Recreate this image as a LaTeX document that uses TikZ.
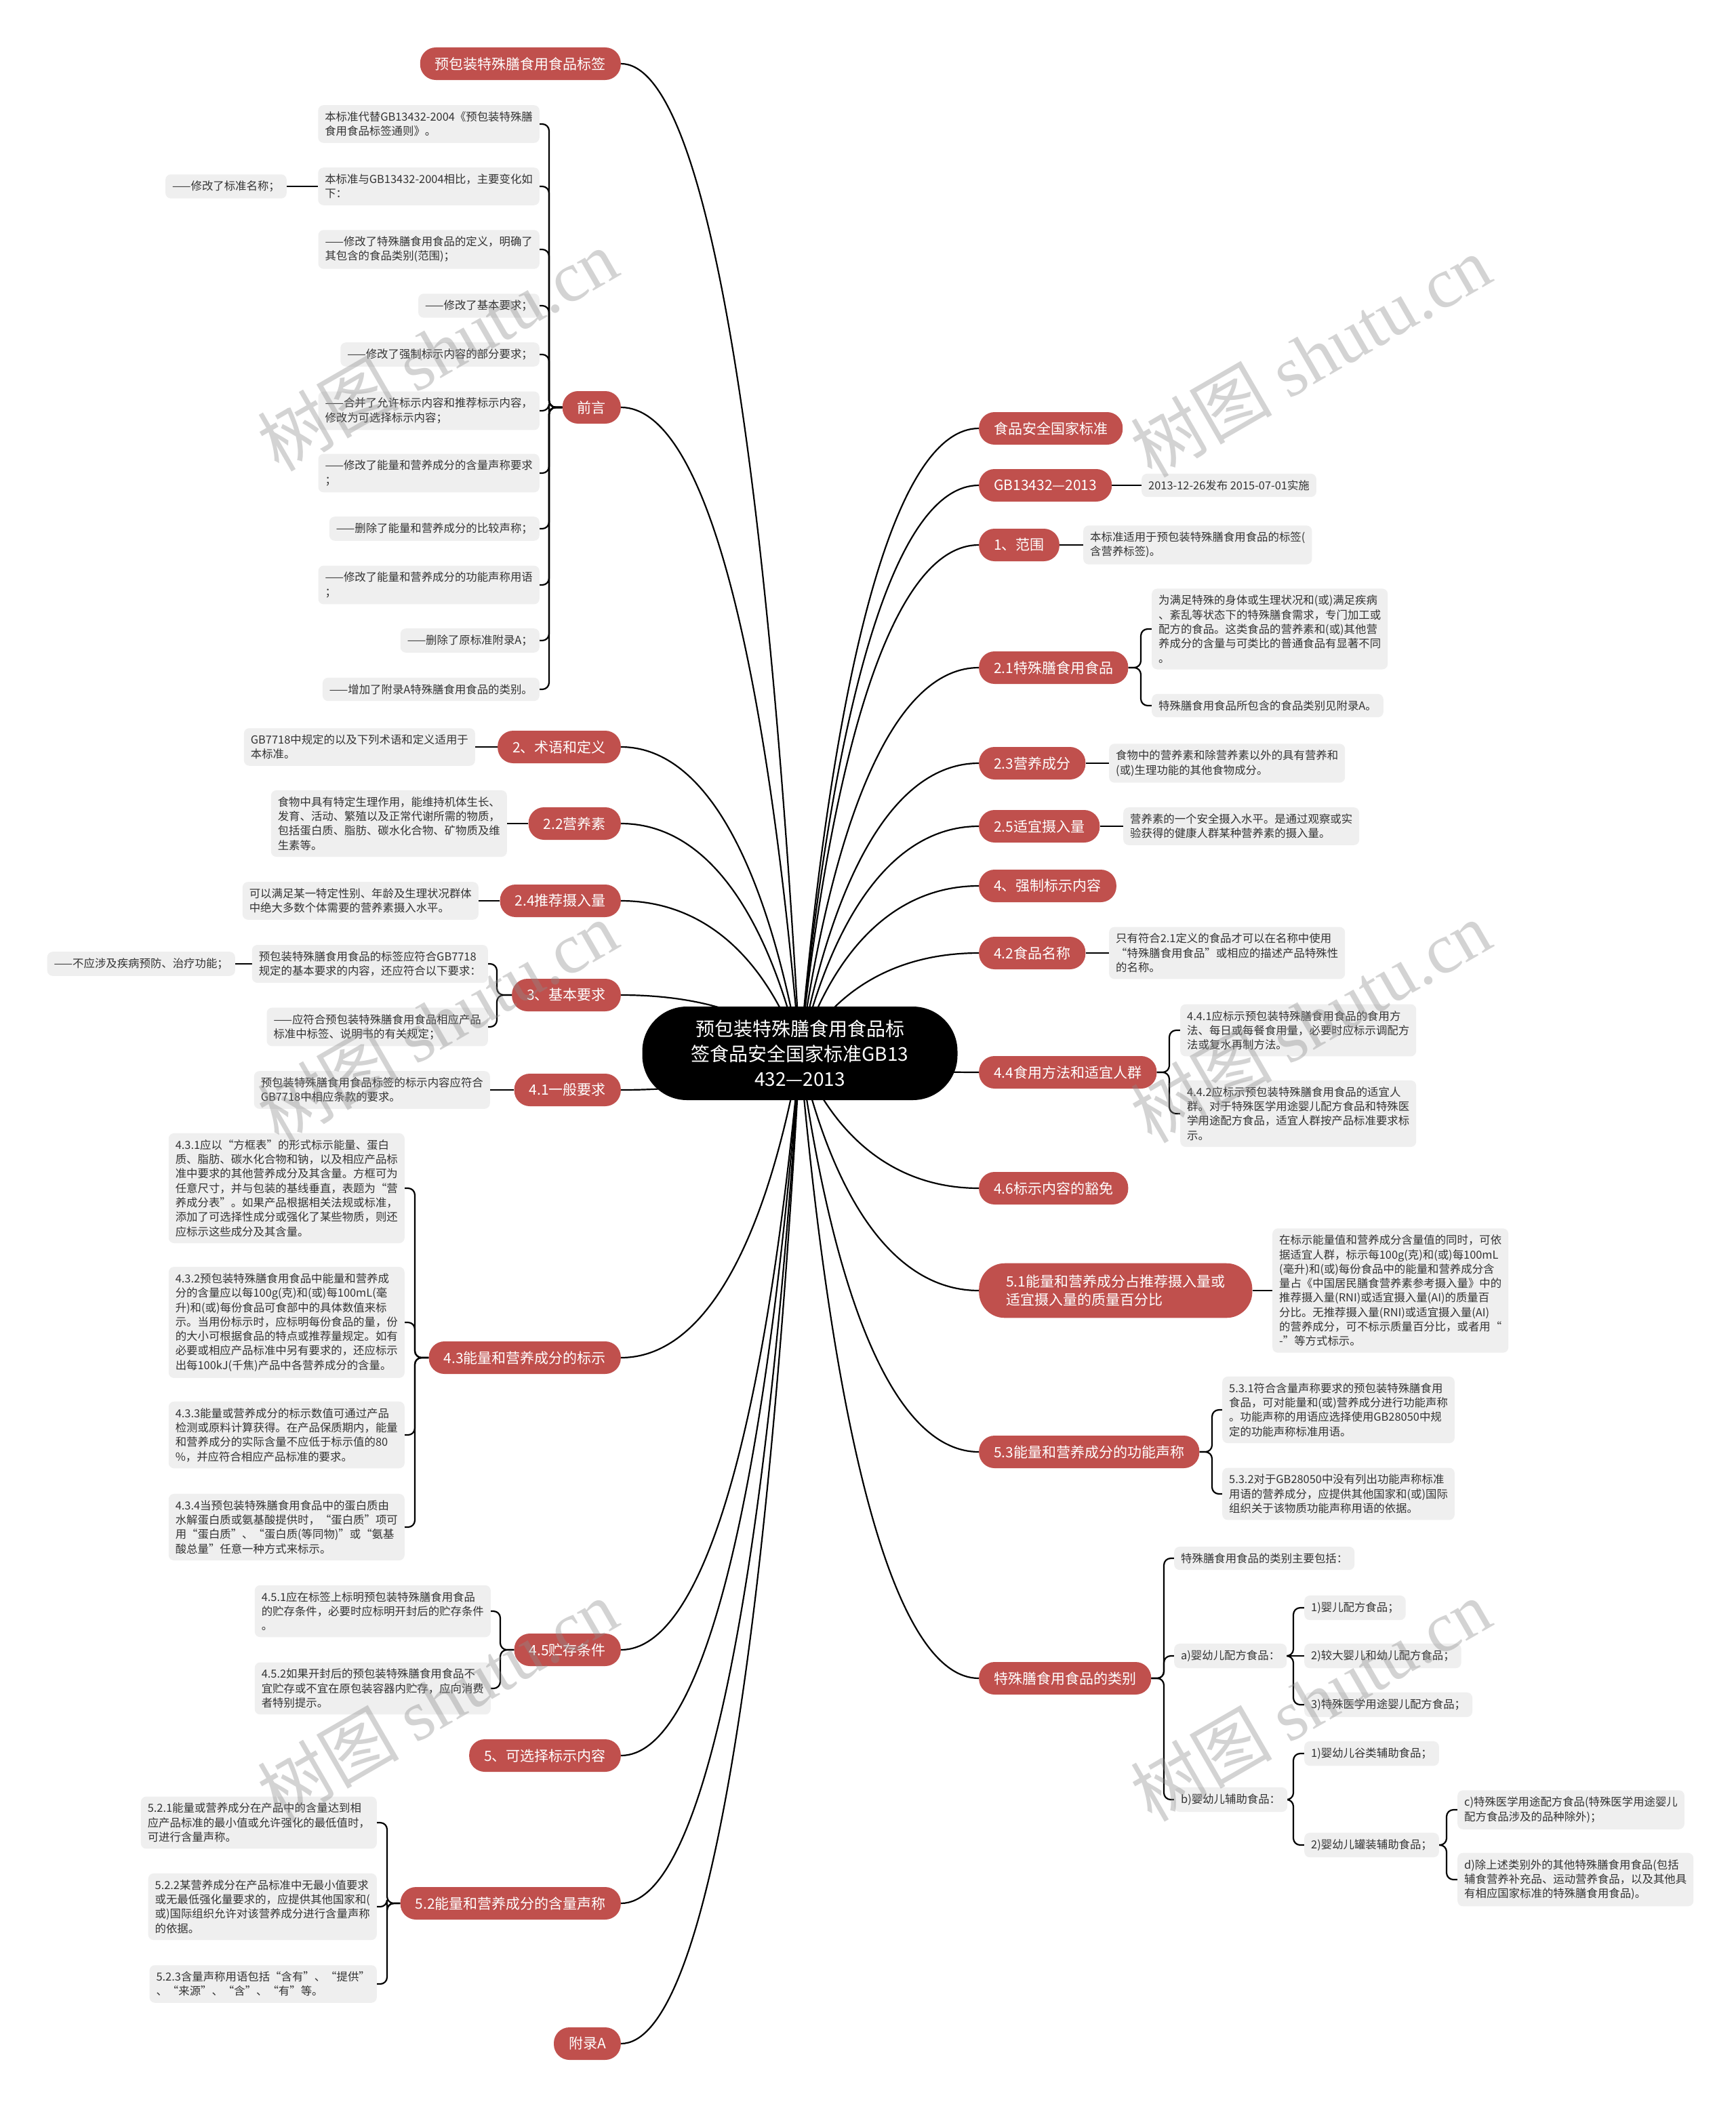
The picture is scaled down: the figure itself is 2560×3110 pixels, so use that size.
\documentclass[tikz,border=0pt]{standalone}
\usepackage{fontspec}
\setmainfont{Noto Sans CJK SC}
\newfontfamily\wmserif{Liberation Serif}
\usetikzlibrary{calc,backgrounds}
\definecolor{mainred}{RGB}{192,80,77}
\definecolor{leafgray}{RGB}{239,239,239}
\definecolor{leaftext}{RGB}{51,51,51}
\newcommand\mlink[1]{\draw[mline] let \p1=(#1), \p2=(ctr.center) in (\p1) .. controls ({\x1+0.45*(\x2-\x1)},{\y1}) and ({\x1+0.8*(\x2-\x1)},{\y1+0.35*(\y2-\y1)}) .. (\p2);}
\newcommand\Lbr[3]{\draw[sline] let \p1=(#1.west), \p2=(#2.east) in (\p1) -- (#3pt,\y1) -- (#3pt,\y2) -- (\p2);}
\newcommand\Rbr[3]{\draw[sline] let \p1=(#1.east), \p2=(#2.west) in (\p1) -- (#3pt,\y1) -- (#3pt,\y2) -- (\p2);}
\begin{document}
\begin{tikzpicture}[x=1pt,y=-1pt,
  mainnode/.style={fill=mainred, text=white, font=\fontsize{21}{27}\selectfont, rounded corners=23pt, minimum height=48pt, inner xsep=22pt, inner ysep=6pt},
  leaf/.style={fill=leafgray, text=leaftext, font=\fontsize{16.4}{21.3}\selectfont, rounded corners=8pt, inner xsep=10pt, inner ysep=9.5pt, align=left},
  mline/.style={line width=2.2pt, black},
  sline/.style={line width=2.2pt, black, rounded corners=10pt},
  wm/.style={text=black!45, text opacity=0.38, font=\fontsize{105}{120}\selectfont, rotate=30}]
\useasboundingbox (0,0) rectangle (2560,3110);

% center
\node[fill=black, text=white, font=\fontsize{28}{37}\selectfont, align=center, minimum width=465pt, minimum height=138pt, rounded corners=66pt] (ctr) at (1180,1554) {预包装特殊膳食用食品标\\签食品安全国家标准GB13\\432—2013};

% left main nodes
\node[mainnode, anchor=east] (L1) at (916,94) {预包装特殊膳食用食品标签};
\node[mainnode, anchor=east] (L2) at (916,601) {前言};
\node[mainnode, anchor=east] (L3) at (916,1102) {2、术语和定义};
\node[mainnode, anchor=east] (L4) at (916,1215) {2.2营养素};
\node[mainnode, anchor=east] (L5) at (916,1329) {2.4推荐摄入量};
\node[mainnode, anchor=east] (L6) at (916,1468) {3、基本要求};
\node[mainnode, anchor=east] (L7) at (916,1608) {4.1一般要求};
\node[mainnode, anchor=east] (L8) at (916,2003) {4.3能量和营养成分的标示};
\node[mainnode, anchor=east] (L9) at (916,2434) {4.5贮存条件};
\node[mainnode, anchor=east] (L10) at (916,2590) {5、可选择标示内容};
\node[mainnode, anchor=east] (L11) at (916,2808) {5.2能量和营养成分的含量声称};
\node[mainnode, anchor=east] (L12) at (916,3015) {附录A};

% right main nodes
\node[mainnode, anchor=west] (R1) at (1444,632) {食品安全国家标准};
\node[mainnode, anchor=west] (R2) at (1444,716) {GB13432—2013};
\node[mainnode, anchor=west] (R3) at (1444,804) {1、范围};
\node[mainnode, anchor=west] (R4) at (1444,985) {2.1特殊膳食用食品};
\node[mainnode, anchor=west] (R5) at (1444,1126) {2.3营养成分};
\node[mainnode, anchor=west] (R6) at (1444,1219) {2.5适宜摄入量};
\node[mainnode, anchor=west] (R7) at (1444,1307) {4、强制标示内容};
\node[mainnode, anchor=west] (R8) at (1444,1406) {4.2食品名称};
\node[mainnode, anchor=west] (R9) at (1444,1582) {4.4食用方法和适宜人群};
\node[mainnode, anchor=west] (R10) at (1444,1753) {4.6标示内容的豁免};
\node[mainnode, anchor=west, align=left, inner xsep=40pt, inner ysep=17pt, rounded corners=38pt] (R11) at (1444,1904) {5.1能量和营养成分占推荐摄入量或\\适宜摄入量的质量百分比};
\node[mainnode, anchor=west] (R12) at (1444,2142) {5.3能量和营养成分的功能声称};
\node[mainnode, anchor=west] (R13) at (1444,2476) {特殊膳食用食品的类别};

% 前言 leaves
\node[leaf, anchor=east] (qa) at (796,183) {本标准代替GB13432-2004《预包装特殊膳\\食用食品标签通则》。};
\node[leaf, anchor=east] (qb) at (796,275) {本标准与GB13432-2004相比，主要变化如\\下：};
\node[leaf, anchor=east] (qb1) at (423,275) {——修改了标准名称；};
\node[leaf, anchor=east] (qc) at (796,368) {——修改了特殊膳食用食品的定义，明确了\\其包含的食品类别(范围)；};
\node[leaf, anchor=east] (qd) at (796,451) {——修改了基本要求；};
\node[leaf, anchor=east] (qe) at (796,523) {——修改了强制标示内容的部分要求；};
\node[leaf, anchor=east] (qf) at (796,606) {——合并了允许标示内容和推荐标示内容，\\修改为可选择标示内容；};
\node[leaf, anchor=east] (qg) at (796,698) {——修改了能量和营养成分的含量声称要求\\；};
\node[leaf, anchor=east] (qh) at (796,780) {——删除了能量和营养成分的比较声称；};
\node[leaf, anchor=east] (qi) at (796,863) {——修改了能量和营养成分的功能声称用语\\；};
\node[leaf, anchor=east] (qj) at (796,945) {——删除了原标准附录A；};
\node[leaf, anchor=east] (qk) at (796,1017) {——增加了附录A特殊膳食用食品的类别。};

% other left leaves
\node[leaf, anchor=east] (t1) at (701,1102) {GB7718中规定的以及下列术语和定义适用于\\本标准。};
\node[leaf, anchor=east] (t2) at (748,1215) {食物中具有特定生理作用，能维持机体生长、\\发育、活动、繁殖以及正常代谢所需的物质，\\包括蛋白质、脂肪、碳水化合物、矿物质及维\\生素等。};
\node[leaf, anchor=east] (t3) at (706,1329) {可以满足某一特定性别、年龄及生理状况群体\\中绝大多数个体需要的营养素摄入水平。};
\node[leaf, anchor=east] (ba) at (720,1422) {预包装特殊膳食用食品的标签应符合GB7718\\规定的基本要求的内容，还应符合以下要求：};
\node[leaf, anchor=east] (ba1) at (347,1422) {——不应涉及疾病预防、治疗功能；};
\node[leaf, anchor=east] (bb) at (720,1515) {——应符合预包装特殊膳食用食品相应产品\\标准中标签、说明书的有关规定；};
\node[leaf, anchor=east] (g1) at (723,1608) {预包装特殊膳食用食品标签的标示内容应符合\\GB7718中相应条款的要求。};
\node[leaf, anchor=east] (n1) at (597,1753) {4.3.1应以“方框表”的形式标示能量、蛋白\\质、脂肪、碳水化合物和钠，以及相应产品标\\准中要求的其他营养成分及其含量。方框可为\\任意尺寸，并与包装的基线垂直，表题为“营\\养成分表”。如果产品根据相关法规或标准，\\添加了可选择性成分或强化了某些物质，则还\\应标示这些成分及其含量。};
\node[leaf, anchor=east] (n2) at (597,1951) {4.3.2预包装特殊膳食用食品中能量和营养成\\分的含量应以每100g(克)和(或)每100mL(毫\\升)和(或)每份食品可食部中的具体数值来标\\示。当用份标示时，应标明每份食品的量，份\\的大小可根据食品的特点或推荐量规定。如有\\必要或相应产品标准中另有要求的，还应标示\\出每100kJ(千焦)产品中各营养成分的含量。};
\node[leaf, anchor=east] (n3) at (597,2117) {4.3.3能量或营养成分的标示数值可通过产品\\检测或原料计算获得。在产品保质期内，能量\\和营养成分的实际含量不应低于标示值的80\\\%，并应符合相应产品标准的要求。};
\node[leaf, anchor=east] (n4) at (597,2253) {4.3.4当预包装特殊膳食用食品中的蛋白质由\\水解蛋白质或氨基酸提供时，“蛋白质”项可\\用“蛋白质”、“蛋白质(等同物)”或“氨基\\酸总量”任意一种方式来标示。};
\node[leaf, anchor=east] (s1) at (724,2377) {4.5.1应在标签上标明预包装特殊膳食用食品\\的贮存条件，必要时应标明开封后的贮存条件\\。};
\node[leaf, anchor=east] (s2) at (724,2491) {4.5.2如果开封后的预包装特殊膳食用食品不\\宜贮存或不宜在原包装容器内贮存，应向消费\\者特别提示。};
\node[leaf, anchor=east] (c1) at (556,2689) {5.2.1能量或营养成分在产品中的含量达到相\\应产品标准的最小值或允许强化的最低值时，\\可进行含量声称。};
\node[leaf, anchor=east] (c2) at (556,2813) {5.2.2某营养成分在产品标准中无最小值要求\\或无最低强化量要求的，应提供其他国家和(\\或)国际组织允许对该营养成分进行含量声称\\的依据。};
\node[leaf, anchor=east] (c3) at (556,2927) {5.2.3含量声称用语包括“含有”、“提供”\\、“来源”、“含”、“有”等。};

% right leaves
\node[leaf, anchor=west] (r2a) at (1684,716) {2013-12-26发布 2015-07-01实施};
\node[leaf, anchor=west] (r3a) at (1598,804) {本标准适用于预包装特殊膳食用食品的标签(\\含营养标签)。};
\node[leaf, anchor=west] (r4a) at (1699,928) {为满足特殊的身体或生理状况和(或)满足疾病\\、紊乱等状态下的特殊膳食需求，专门加工或\\配方的食品。这类食品的营养素和(或)其他营\\养成分的含量与可类比的普通食品有显著不同\\。};
\node[leaf, anchor=west] (r4b) at (1699,1041) {特殊膳食用食品所包含的食品类别见附录A。};
\node[leaf, anchor=west] (r5a) at (1636,1126) {食物中的营养素和除营养素以外的具有营养和\\(或)生理功能的其他食物成分。};
\node[leaf, anchor=west] (r6a) at (1657,1219) {营养素的一个安全摄入水平。是通过观察或实\\验获得的健康人群某种营养素的摄入量。};
\node[leaf, anchor=west] (r8a) at (1636,1406) {只有符合2.1定义的食品才可以在名称中使用\\“特殊膳食用食品”或相应的描述产品特殊性\\的名称。};
\node[leaf, anchor=west] (r9a) at (1741,1520) {4.4.1应标示预包装特殊膳食用食品的食用方\\法、每日或每餐食用量，必要时应标示调配方\\法或复水再制方法。};
\node[leaf, anchor=west] (r9b) at (1741,1643) {4.4.2应标示预包装特殊膳食用食品的适宜人\\群。对于特殊医学用途婴儿配方食品和特殊医\\学用途配方食品，适宜人群按产品标准要求标\\示。};
\node[leaf, anchor=west] (r11a) at (1877,1904) {在标示能量值和营养成分含量值的同时，可依\\据适宜人群，标示每100g(克)和(或)每100mL\\(毫升)和(或)每份食品中的能量和营养成分含\\量占《中国居民膳食营养素参考摄入量》中的\\推荐摄入量(RNI)或适宜摄入量(AI)的质量百\\分比。无推荐摄入量(RNI)或适宜摄入量(AI)\\的营养成分，可不标示质量百分比，或者用“\\-”等方式标示。};
\node[leaf, anchor=west] (r12a) at (1803,2080) {5.3.1符合含量声称要求的预包装特殊膳食用\\食品，可对能量和(或)营养成分进行功能声称\\。功能声称的用语应选择使用GB28050中规\\定的功能声称标准用语。};
\node[leaf, anchor=west] (r12b) at (1803,2204) {5.3.2对于GB28050中没有列出功能声称标准\\用语的营养成分，应提供其他国家和(或)国际\\组织关于该物质功能声称用语的依据。};
\node[leaf, anchor=west] (k0) at (1732,2299) {特殊膳食用食品的类别主要包括：};
\node[leaf, anchor=west] (ka) at (1732,2443) {a)婴幼儿配方食品：};
\node[leaf, anchor=west] (kb) at (1732,2655) {b)婴幼儿辅助食品：};
\node[leaf, anchor=west] (ka1) at (1924,2372) {1)婴儿配方食品；};
\node[leaf, anchor=west] (ka2) at (1924,2443) {2)较大婴儿和幼儿配方食品；};
\node[leaf, anchor=west] (ka3) at (1924,2515) {3)特殊医学用途婴儿配方食品；};
\node[leaf, anchor=west] (kb1) at (1924,2587) {1)婴幼儿谷类辅助食品；};
\node[leaf, anchor=west] (kb2) at (1924,2722) {2)婴幼儿罐装辅助食品；};
\node[leaf, anchor=west] (kc) at (2150,2670) {c)特殊医学用途配方食品(特殊医学用途婴儿\\配方食品涉及的品种除外)；};
\node[leaf, anchor=west] (kd) at (2150,2773) {d)除上述类别外的其他特殊膳食用食品(包括\\辅食营养补充品、运动营养食品，以及其他具\\有相应国家标准的特殊膳食用食品)。};

\begin{pgfonlayer}{background}
\fill[white] (0,0) rectangle (2560,3110);
% main links
\foreach \nd in {L1,L2,L3,L4,L5,L6,L7,L8,L9,L10,L11,L12} {\mlink{\nd.east}}
\foreach \nd in {R1,R2,R3,R4,R5,R6,R7,R8,R9,R10,R11,R12,R13} {\mlink{\nd.west}}
% 前言
\foreach \cd in {qa,qb,qc,qd,qe,qf,qg,qh,qi,qj,qk} {\Lbr{L2}{\cd}{810}}
\draw[sline] (qb.west) -- (qb1.east);
\draw[sline] (L3.west) -- (t1.east);
\draw[sline] (L4.west) -- (t2.east);
\draw[sline] (L5.west) -- (t3.east);
\Lbr{L6}{ba}{733}
\Lbr{L6}{bb}{733}
\draw[sline] (ba.west) -- (ba1.east);
\draw[sline] (L7.west) -- (g1.east);
\foreach \cd in {n1,n2,n3,n4} {\Lbr{L8}{\cd}{612}}
\foreach \cd in {s1,s2} {\Lbr{L9}{\cd}{738}}
\foreach \cd in {c1,c2,c3} {\Lbr{L11}{\cd}{571}}
% right
\draw[sline] (R2.east) -- (r2a.west);
\draw[sline] (R3.east) -- (r3a.west);
\foreach \cd in {r4a,r4b} {\Rbr{R4}{\cd}{1683}}
\draw[sline] (R5.east) -- (r5a.west);
\draw[sline] (R6.east) -- (r6a.west);
\draw[sline] (R8.east) -- (r8a.west);
\foreach \cd in {r9a,r9b} {\Rbr{R9}{\cd}{1725}}
\draw[sline] (R11.east) -- (r11a.west);
\foreach \cd in {r12a,r12b} {\Rbr{R12}{\cd}{1788}}
\foreach \cd in {k0,ka,kb} {\Rbr{R13}{\cd}{1717}}
\foreach \cd in {ka1,ka3} {\Rbr{ka}{\cd}{1908}}
\draw[sline] (ka.east) -- (ka2.west);
\foreach \cd in {kb1,kb2} {\Rbr{kb}{\cd}{1908}}
\foreach \cd in {kc,kd} {\Rbr{kb2}{\cd}{2134}}
\end{pgfonlayer}

% watermarks
\node[wm] (w1) at (645,516) {树图 {\wmserif shutu.cn}};
\node[wm] (w2) at (1933,525) {树图 {\wmserif shutu.cn}};
\node[wm] (w3) at (645,1507) {树图 {\wmserif shutu.cn}};
\node[wm] (w4) at (1933,1507) {树图 {\wmserif shutu.cn}};
\node[wm] (w5) at (645,2508) {树图 {\wmserif shutu.cn}};
\node[wm] (w6) at (1933,2508) {树图 {\wmserif shutu.cn}};
\end{tikzpicture}
\end{document}
